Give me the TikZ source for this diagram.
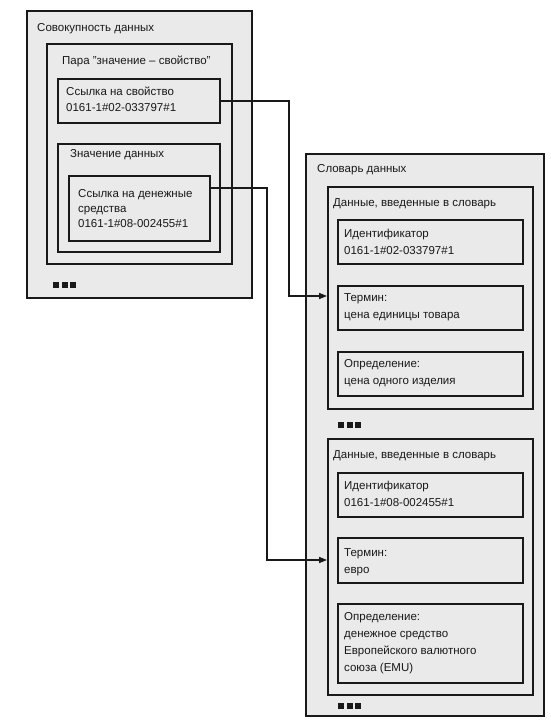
\documentclass[tikz,border=0pt]{standalone}
\usepackage{fontspec}
\setmainfont{Liberation Sans}
\usetikzlibrary{arrows.meta,calc}
\definecolor{boxfill}{RGB}{234,234,234}
\definecolor{ink}{RGB}{25,25,25}
\newcommand\ml[1]{\begin{tabular}[t]{@{}l@{}}#1\end{tabular}}
\tikzset{
  frame/.style={draw=ink, fill=boxfill, line width=1.8pt, rectangle, inner sep=0pt, anchor=north west},
  txt/.style={anchor=base west, inner sep=0pt, text=ink, font=\fontsize{11.5}{17}\selectfont},
  txtl/.style={txt, font=\fontsize{11.5}{16}\selectfont},
  txts/.style={txt, font=\fontsize{11.5}{15}\selectfont},
  conn/.style={draw=ink, line width=1.5pt},
  arr/.style={conn, -{Triangle[length=8pt,width=6pt]}},
  dotsq/.style={fill=ink},
}
\begin{document}
\begin{tikzpicture}[x=1pt,y=-1pt]
\useasboundingbox (0,0) rectangle (550,722);
% left group
\node[frame, minimum width=225pt, minimum height=287pt] (set) at (26,10) {};
\node[frame, minimum width=185pt, minimum height=220pt] (pair) at (46,43) {};
\node[frame, minimum width=162pt, minimum height=44pt] (ref1) at (57,78) {};
\node[frame, minimum width=162pt, minimum height=108pt] (val) at (57,143) {};
\node[frame, minimum width=141pt, minimum height=65pt] (ref2) at (68,175) {};
\node[txt] (tset) at (37,32) {Совокупность данных};
\node[txt] (tpair) at (62,65) {Пара "значение – свойство"};
\node[txtl] (tref1) at (66,96) {\ml{Ссылка на свойство\\0161-1\#02-033797\#1}};
\node[txt] (tval) at (70,158) {Значение данных};
\node[txts] (tref2) at (78,197) {\ml{Ссылка на денежные\\средства\\0161-1\#08-002455\#1}};
\foreach \i in {0,1,2} \fill[dotsq] (53+8.5*\i,282) rectangle ++(6,6);
% dictionary
\node[frame, minimum width=238pt, minimum height=562pt] (dict) at (305,153) {};
\node[frame, minimum width=205pt, minimum height=222pt] (entry1) at (327,186) {};
\node[frame, minimum width=185pt, minimum height=44pt] (id1) at (337,219) {};
\node[frame, minimum width=185pt, minimum height=44pt] (term1) at (337,285) {};
\node[frame, minimum width=185pt, minimum height=44pt] (def1) at (337,351) {};
\node[frame, minimum width=205pt, minimum height=256pt] (entry2) at (327,438) {};
\node[frame, minimum width=185pt, minimum height=44pt] (id2) at (337,472) {};
\node[frame, minimum width=185pt, minimum height=45pt] (term2) at (337,537) {};
\node[frame, minimum width=185pt, minimum height=79pt] (def2) at (337,603) {};
\node[txt] (tdict) at (317,172) {Словарь данных};
\node[txt] (tentry1) at (333,206) {Данные, введенные в словарь};
\node[txt] (tid1) at (344,237) {\ml{Идентификатор\\0161-1\#02-033797\#1}};
\node[txt] (tterm1) at (344,301) {\ml{Термин:\\цена единицы товара}};
\node[txt] (tdef1) at (344,367) {\ml{Определение:\\цена одного изделия}};
\node[txt] (tentry2) at (333,458) {Данные, введенные в словарь};
\node[txt] (tid2) at (344,489) {\ml{Идентификатор\\0161-1\#08-002455\#1}};
\node[txt] (tterm2) at (344,556) {\ml{Термин:\\евро}};
\node[txt] (tdef2) at (344,620) {\ml{Определение:\\денежное средство\\Европейского валютного\\союза (EMU)}};
\foreach \i in {0,1,2} \fill[dotsq] (338+8.5*\i,422) rectangle ++(6,6);
\foreach \i in {0,1,2} \fill[dotsq] (338+8.5*\i,703) rectangle ++(6,6);
% connectors
\coordinate (j1) at (289,0);
\coordinate (j2) at (267,0);
\coordinate (in1) at (327,296);
\coordinate (in2) at (327,560);
\coordinate (out2) at ($(ref2.north east)+(0,13)$);
\draw[arr] (ref1.east) -- (ref1.east -| j1) -- (j1 |- in1) -- (in1);
\draw[arr] (out2) -- (out2 -| j2) -- (j2 |- in2) -- (in2);
\end{tikzpicture}
\end{document}
